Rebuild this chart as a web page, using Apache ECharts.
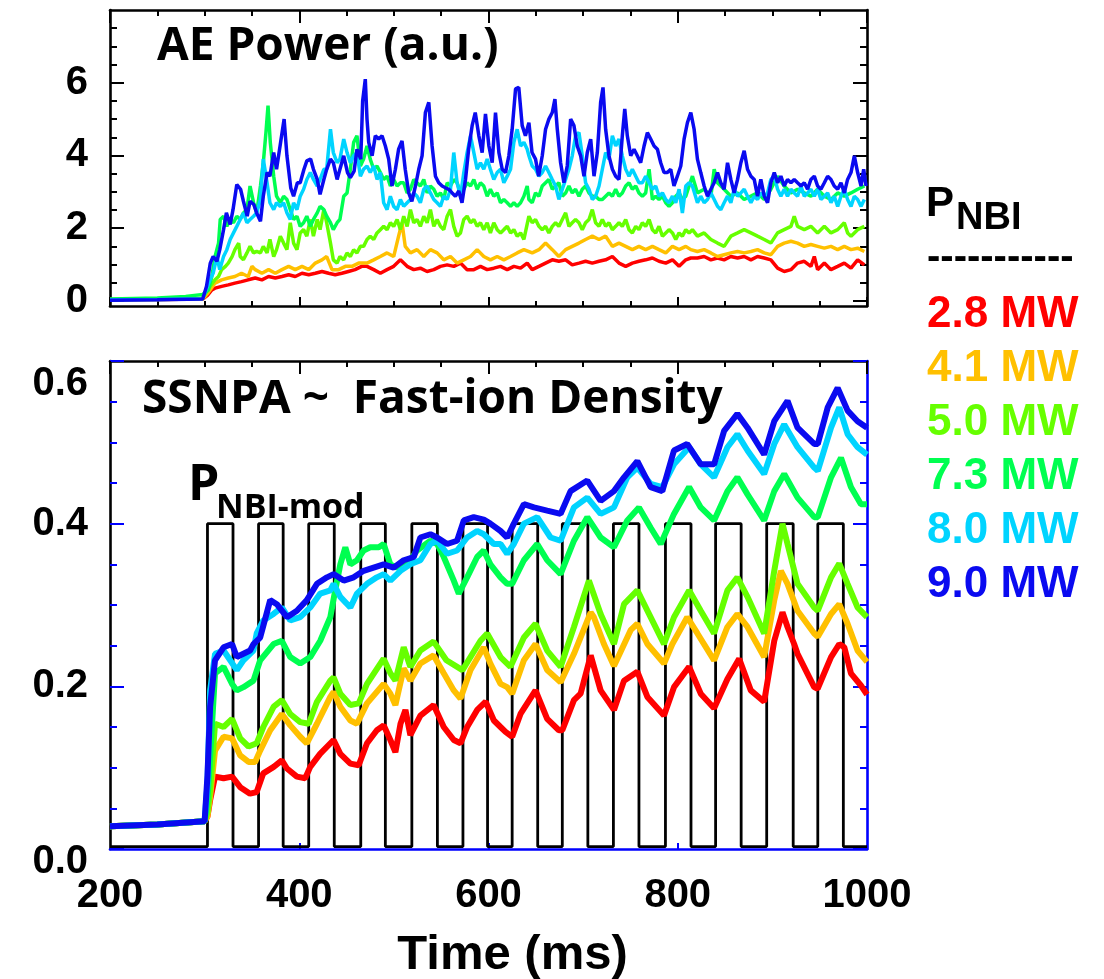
<!DOCTYPE html>
<html><head><meta charset="utf-8">
<script src="https://cdn.jsdelivr.net/npm/echarts@6/dist/echarts.min.js"></script>
<style>html,body{margin:0;padding:0;background:#fff}#c{width:1104px;height:979px}</style>
</head><body><div id="c"></div>
<script>
// ---------------- DATA ----------------
const seriesNames = ['2.8 MW','4.1 MW','5.0 MW','7.3 MW','8.0 MW','9.0 MW'];
const seriesColors = ['#ff0000','#ffc000','#66ff00','#00ff50','#00d4ff','#0a0af0'];

// AE power (a.u.) vs time (ms)
const aeRed = [[200,0.03],[250,0.04],[298,0.05],[303,0.15],[307.6,0.3],[311,0.35],[318,0.4],[325,0.44],[332,0.49],[339,0.53],[346,0.58],[353.5,0.63],[360.5,0.58],[367.6,0.67],[374.7,0.63],[381.7,0.67],[388.8,0.72],[395.8,0.67],[402.9,0.76],[410,0.72],[417,0.76],[424,0.81],[431,0.76],[438,0.72],[445,0.76],[452,0.81],[459,0.86],[466,0.95],[471.6,0.95],[478.7,0.86],[485.7,0.76],[492.8,0.86],[499.8,0.95],[506.9,1.13],[514,0.95],[521,0.86],[528,0.9],[535.1,0.81],[542.2,0.86],[549.2,0.95],[556.3,0.99],[563.3,0.95],[570.4,1.04],[577.4,0.86],[584.5,0.86],[591.5,0.95],[598.6,0.86],[605.6,0.9],[612.7,0.95],[619.8,0.86],[626.8,0.95],[633.9,0.9],[640.9,1.04],[646.2,0.86],[653.3,0.95],[660.3,1.04],[667.4,1.13],[674.4,1.09],[681.5,1.13],[688.5,0.99],[695.6,1.04],[702.6,1.09],[709.7,1.04],[716.8,1.09],[723.8,1.13],[730.9,1.22],[737.9,1.04],[745,0.95],[752,1.04],[759,1.09],[766.1,1.13],[773.2,1.18],[780.2,1.09],[787.3,1.04],[794.4,1.13],[801.4,0.95],[808.5,1.13],[813.8,1.18],[820.8,1.18],[827.9,1.22],[835,1.13],[842,1.18],[849,1.13],[856.1,1.22],[863.2,1.18],[870.2,1.22],[877.3,1.13],[884.3,1.22],[891.4,1.18],[898.4,1.13],[905.5,0.9],[912.5,0.81],[919.6,0.86],[926.6,1.04],[933.7,1.09],[940.7,0.95],[944.3,1.22],[947.8,0.86],[954.9,1.04],[961.9,0.86],[969,0.95],[976,1.04],[983.1,0.9],[990.1,1.13],[997.2,0.99]];
const aeOrange = [[200,0.03],[250,0.04],[298,0.05],[303,0.2],[311,0.49],[318,0.58],[325,0.63],[332,0.67],[339,0.76],[346,0.67],[350,0.95],[353.5,0.86],[360.5,0.76],[367.6,0.86],[374.7,0.76],[381.7,0.86],[388.8,0.95],[395.8,0.86],[402.9,0.95],[410,0.86],[417,1.04],[424,1.13],[429,1.22],[434.6,0.86],[441.7,0.86],[448.7,0.95],[455.8,0.95],[462.8,1.04],[468,1.04],[471.6,1.04],[478.7,1.13],[485.7,1.22],[492.8,1.32],[499.8,1.22],[505,1.78],[508.6,2.15],[512,1.5],[517.5,1.32],[524.5,1.41],[531.6,1.22],[538.6,1.41],[545.7,1.32],[552.7,1.13],[559.8,1.22],[566.8,1.04],[573.9,1.13],[581,1.22],[588,1.41],[595,1.22],[602,1.13],[609.2,1.22],[616.2,1.13],[623.3,1.22],[630.3,1.32],[637.4,1.41],[646.2,1.32],[653.3,1.41],[660.3,1.59],[667.4,1.41],[674.4,1.22],[681.5,1.41],[688.5,1.5],[695.6,1.59],[702.6,1.69],[709.7,1.78],[716.8,1.69],[723.8,1.78],[730.9,1.5],[737.9,1.59],[745,1.5],[752,1.41],[759,1.5],[766.1,1.41],[773.2,1.5],[780.2,1.41],[787.3,1.32],[794.4,1.5],[801.4,1.41],[808.5,1.5],[813.8,1.41],[820.8,1.36],[827.9,1.41],[835,1.32],[842,1.22],[849,1.27],[856.1,1.32],[863.2,1.36],[870.2,1.32],[877.3,1.36],[884.3,1.41],[891.4,1.32],[898.4,1.27],[905.5,1.5],[912.5,1.59],[919.6,1.64],[926.6,1.59],[933.7,1.5],[940.7,1.55],[947.8,1.5],[954.9,1.45],[961.9,1.5],[969,1.41],[976,1.5],[983.1,1.41],[990.1,1.45],[997.2,1.36]];
const aeYellowGreen = [[200,0.04],[250,0.05],[298,0.08],[303,0.3],[311,0.58],[314.7,0.67],[318,0.86],[322,0.95],[325,1.04],[329,1.22],[332,1.41],[336,1.59],[337.6,1.22],[341,1.13],[344.7,1.32],[348,1.5],[351.7,1.32],[355,1.36],[359,1.32],[362,1.5],[366,1.32],[369,1.69],[373,1.22],[376,1.41],[380,1.78],[383.5,1.59],[387,1.41],[390.5,2.15],[394,1.59],[397.6,1.41],[401,1.87],[404.6,1.96],[408,1.78],[411.7,2.24],[415,1.78],[419,2.24],[422,1.96],[426,2.51],[429,2.15],[433,1.59],[436,1.13],[440,1.04],[443,1.22],[447,1.13],[450.5,1.32],[454,1.22],[457.5,1.41],[461,1.32],[464.6,1.5],[468,1.5],[471.6,1.69],[475,1.78],[478.7,1.69],[482.2,1.87],[485.7,1.96],[489.2,2.05],[492.8,1.96],[496.3,2.15],[499.8,2.05],[503.4,2.24],[506.9,1.96],[510.4,2.33],[514,2.05],[517.5,2.51],[521,2.15],[524.5,2.24],[528,2.05],[531.6,2.33],[535.1,2.15],[538.6,2.51],[542.2,2.05],[545.7,2.24],[549.2,2.05],[552.7,1.96],[556.3,2.33],[559.8,2.51],[563.3,2.05],[566.8,1.78],[570.4,1.87],[573.9,2.24],[577.4,2.33],[581,2.15],[584.5,2.24],[588,2.05],[591.5,2.15],[595,1.96],[598.6,2.15],[602,1.87],[605.6,2.15],[609.2,1.96],[612.7,1.87],[616.2,1.96],[619.8,2.05],[623.3,1.87],[626.8,1.96],[630.3,1.78],[633.9,1.87],[637.4,1.69],[642.7,2.33],[646.2,2.15],[649.7,2.24],[653.3,2.05],[656.8,1.96],[660.3,2.05],[663.8,1.87],[667.4,2.05],[670.9,2.15],[674.4,2.05],[678,2.24],[681.5,2.42],[685,2.05],[688.5,2.15],[692,2.24],[695.6,2.15],[699.1,1.96],[702.6,2.15],[706.2,2.24],[709.7,2.51],[713.2,2.15],[716.8,2.05],[720.3,2.24],[723.8,2.05],[727.3,2.15],[730.9,1.96],[734.4,2.05],[737.9,2.15],[741.4,2.05],[745,2.24],[748.5,1.96],[752,1.87],[755.6,2.05],[759,1.96],[762.6,2.15],[766.1,2.05],[769.7,2.24],[773.2,1.96],[776.7,1.87],[780.2,2.05],[783.8,1.78],[787.3,1.87],[790.8,1.96],[794.4,1.87],[797.9,1.69],[801.4,1.87],[804.9,1.78],[808.5,1.96],[812,1.87],[815.5,1.96],[820.8,1.78],[827.9,1.87],[835,1.69],[842,1.59],[849,1.5],[856.1,1.78],[863.2,1.87],[870.2,1.96],[877.3,1.87],[884.3,1.78],[891.4,1.69],[898.4,1.59],[905.5,1.87],[912.5,1.96],[919.6,2.05],[923.1,2.33],[926.6,2.05],[933.7,1.96],[940.7,2.05],[947.8,1.87],[954.9,2.05],[961.9,1.87],[969,1.96],[976,2.15],[979.5,1.87],[983.1,1.78],[990.1,1.96],[997.2,2.05]];
const aeGreen = [[200,0.05],[250,0.08],[280,0.12],[298,0.18],[304,0.3],[307.6,0.67],[311,1.22],[314.7,1.59],[316.5,2.24],[320,2.33],[323.5,2.05],[327,2.24],[330.5,2.15],[334,2.33],[337.6,2.24],[341,2.42],[344.7,2.51],[348,3.16],[351.7,2.7],[355,2.42],[359,3.16],[362,3.8],[364.8,4.63],[367,5.37],[369.4,4.36],[373,3.43],[376,2.88],[380,2.7],[383.5,2.88],[387,2.79],[390.5,2.51],[394,2.24],[397.6,2.33],[401,2.05],[404.6,2.15],[408,2.33],[411.7,2.05],[415,2.24],[419,2.42],[422,2.6],[426,2.51],[429,2.33],[433,2.15],[436,1.96],[440,2.15],[443,2.24],[447,2.88],[450.5,2.97],[454,3.62],[457.5,4.36],[461,4.54],[464.6,3.71],[468,3.9],[471.6,4.26],[475,3.9],[478.7,3.62],[482.2,3.71],[485.7,3.53],[489.2,3.34],[492.8,3.43],[496.3,3.16],[499.8,3.34],[503.4,3.16],[506.9,3.25],[510.4,3.25],[514,2.97],[517.5,3.07],[521,3.34],[524.5,3.25],[528,3.16],[531.6,3.34],[535.1,2.97],[538.6,3.16],[542.2,3.07],[545.7,2.88],[549.2,2.97],[552.7,2.79],[556.3,3.25],[559.8,3.16],[563.3,3.34],[566.8,3.25],[570.4,2.97],[573.9,3.07],[577.4,3.25],[581,3.16],[584.5,3.34],[588,3.07],[591.5,3.25],[595,3.16],[598.6,2.88],[602,3.07],[605.6,2.88],[609.2,2.97],[612.7,2.7],[616.2,2.79],[619.8,2.7],[623.3,2.6],[626.8,2.7],[630.3,2.6],[633.9,2.7],[637.4,2.88],[640.9,3.16],[642.7,2.79],[646.2,2.7],[649.7,2.97],[653.3,2.88],[656.8,3.16],[660.3,3.25],[663.8,3.34],[667.4,3.07],[670.9,3.16],[674.4,3.25],[678,2.88],[681.5,2.97],[685,3.16],[688.5,2.97],[692,3.07],[695.6,2.88],[699.1,3.07],[702.6,3.16],[706.2,2.97],[709.7,2.88],[713.2,2.88],[716.8,2.79],[720.3,2.79],[723.8,2.88],[727.3,2.97],[730.9,2.88],[734.4,3.07],[737.9,2.88],[741.4,2.97],[745,3.16],[748.5,3.25],[752,3.07],[755.6,3.16],[759,2.97],[762.6,2.88],[766.1,2.97],[769.7,3.62],[773.2,2.79],[776.7,2.88],[780.2,2.79],[783.8,2.88],[787.3,2.7],[790.8,2.6],[794.4,2.7],[797.9,2.88],[801.4,2.97],[804.9,2.79],[808.5,2.88],[812,3.16],[815.5,3.43],[820.8,2.97],[827.9,3.07],[835,2.88],[838.5,3.62],[842,3.25],[849,3.07],[856.1,2.88],[863.2,2.97],[870.2,2.79],[877.3,2.88],[884.3,2.97],[891.4,2.79],[898.4,3.07],[905.5,3.43],[912.5,3.16],[919.6,2.97],[926.6,3.07],[933.7,2.97],[940.7,2.88],[947.8,3.07],[954.9,2.88],[961.9,2.79],[969,2.97],[976,2.88],[983.1,2.97],[990.1,3.07],[997.2,3.16]];
const aeCyan = [[200,0.03],[250,0.04],[298,0.06],[303,0.4],[306,0.6],[309,0.76],[313,1.22],[316,0.86],[320,1.22],[323.5,1.41],[327,1.69],[330.5,1.87],[334,2.05],[337.6,2.24],[341,2.42],[344.7,2.15],[348,2.24],[351.7,2.33],[355,2.42],[359,2.79],[362,3.9],[366,3.25],[369,2.7],[373,2.51],[376,2.7],[380,2.6],[383.5,2.7],[387,2.42],[390.5,2.24],[394,2.7],[397.6,2.51],[401,2.88],[404.6,3.07],[408,3.34],[411.7,3.53],[415,3.34],[419,3.16],[422,3.34],[426,3.62],[429,3.62],[433,4.72],[436,4.08],[440,3.8],[443,3.9],[447,4.45],[450.5,4.08],[454,3.8],[457.5,3.99],[461,4.08],[464.6,3.43],[468,3.62],[471.6,3.71],[475,3.53],[478.7,3.71],[482.2,3.34],[485.7,3.53],[489.2,2.7],[492.8,2.51],[496.3,2.88],[499.8,2.6],[503.4,2.51],[506.9,2.79],[510.4,2.6],[514,2.7],[517.5,2.79],[521,2.97],[524.5,2.88],[528,2.7],[531.6,3.07],[535.1,3.16],[538.6,2.97],[542.2,2.79],[545.7,2.7],[549.2,2.6],[552.7,2.88],[556.3,2.79],[559.8,3.07],[563.3,4.08],[566.8,3.25],[570.4,2.88],[573.9,3.53],[577.4,4.08],[581,4.54],[584.5,4.08],[588,3.62],[591.5,3.8],[595,3.62],[598.6,3.9],[602,3.62],[605.6,3.34],[609.2,3.53],[612.7,3.62],[616.2,3.25],[619.8,3.43],[623.3,3.62],[626.8,4.36],[630.3,4.72],[633.9,4.26],[637.4,4.36],[640.9,4.17],[642.7,3.99],[646.2,3.71],[649.7,3.62],[653.3,3.43],[656.8,3.53],[660.3,3.71],[663.8,3.53],[667.4,3.34],[670.9,3.16],[674.4,2.79],[678,3.07],[681.5,3.34],[685,3.62],[688.5,3.99],[692,4.54],[695.6,4.63],[699.1,3.99],[702.6,3.25],[706.2,3.07],[709.7,2.79],[713.2,2.88],[716.8,3.16],[720.3,3.62],[723.8,4.08],[727.3,3.9],[730.9,4.54],[734.4,4.26],[737.9,4.45],[741.4,3.99],[745,3.62],[748.5,3.43],[752,3.62],[755.6,3.43],[759,3.25],[762.6,3.25],[766.1,3.43],[769.7,3.25],[773.2,3.07],[776.7,3.16],[780.2,2.88],[783.8,2.97],[787.3,2.79],[790.8,2.7],[794.4,2.88],[797.9,2.7],[801.4,3.07],[804.9,2.42],[808.5,3.16],[812,3.25],[815.5,3.16],[820.8,2.7],[824.3,2.88],[827.9,2.7],[831.4,2.79],[835,2.97],[838.5,2.79],[842,2.6],[845.5,2.51],[849,2.7],[852.6,2.88],[856.1,2.7],[859.6,3.07],[863.2,2.88],[866.7,2.97],[870.2,3.07],[873.7,2.88],[877.3,2.7],[880.8,2.88],[884.3,2.79],[887.8,2.97],[891.4,2.88],[894.9,2.97],[898.4,3.34],[902,3.43],[905.5,3.07],[909,2.88],[912.5,3.07],[916,2.88],[919.6,3.07],[923.1,2.97],[926.6,2.88],[930.2,3.16],[933.7,2.88],[937.2,2.97],[940.7,3.07],[944.3,2.88],[947.8,3.07],[951.3,2.79],[954.9,2.88],[958.4,2.97],[961.9,2.7],[965.4,2.88],[969,2.6],[972.5,2.88],[976,3.07],[979.5,2.79],[983.1,2.6],[986.6,2.88],[990.1,2.79],[993.7,2.6],[997.2,2.79]];
const aeBlue = [[200,0.02],[250,0.03],[298,0.05],[302,0.4],[306,1.04],[309,1.22],[313,1.09],[316,1.41],[320,1.96],[323,2.42],[327,2.1],[330,2.51],[334,3.2],[338,3.07],[341,2.74],[345,2.33],[348,2.74],[352,2.65],[355,2.42],[359,2.19],[362,2.88],[366,3.53],[369,3.43],[373,4.08],[376,3.62],[380,4.31],[384,5.0],[387,3.99],[391,3.11],[394,2.88],[398,3.25],[401,3.25],[405,3.62],[408,3.85],[412,3.9],[415,3.62],[419,3.34],[422,2.93],[426,3.34],[429,3.62],[433,3.9],[436,3.8],[440,3.34],[443,3.62],[447,3.99],[451,3.53],[454,3.39],[458,3.57],[461,4.17],[465,3.9],[467,5.5],[469.8,6.1],[471.6,5.0],[473.4,4.36],[477,3.99],[480.4,4.54],[484,4.45],[487.5,4.54],[491,4.26],[494.5,3.9],[498,3.16],[501.6,3.62],[505,4.17],[508.6,4.4],[512,3.62],[515.7,2.97],[519,2.74],[522.8,3.16],[526.3,3.62],[529.8,3.99],[533.3,5.18],[536.9,5.46],[540.4,4.26],[543.9,3.43],[547.4,3.25],[551,3.16],[554.5,3.11],[558,3.07],[561.6,2.97],[565,2.88],[568.6,3.02],[572,2.7],[575.7,3.34],[579,4.17],[582.7,4.82],[586,5.18],[589.8,4.54],[593.3,4.08],[596.8,5.14],[600.4,4.26],[603.9,3.8],[607.4,5.18],[611,4.08],[614.5,3.62],[618,3.53],[621.5,3.99],[625,4.72],[628.6,5.83],[632,5.87],[635.6,4.82],[639,4.54],[642.7,4.9],[646,4.08],[649.7,3.9],[653,3.43],[656.8,3.99],[660.3,4.72],[663.8,5.0],[667.4,5.18],[670.2,5.55],[672.7,4.72],[676.2,3.8],[679.7,3.25],[683.2,3.71],[686.8,5.0],[690.3,4.82],[693.8,4.26],[697.4,3.99],[700.9,3.43],[704.4,4.08],[708,4.45],[711.5,3.43],[715,4.08],[718.5,5.46],[721,5.87],[723.8,4.72],[727.3,3.99],[730.9,3.62],[734.4,3.43],[737.9,3.34],[741.4,4.54],[744,5.28],[746.7,4.54],[750.3,3.99],[753.8,4.17],[757.3,3.99],[760.8,3.8],[764.4,4.26],[767.9,4.63],[771.4,4.45],[775,4.26],[778.5,4.17],[782,3.8],[785.5,3.53],[789,3.53],[792.6,3.62],[796,3.16],[799.6,3.43],[803.2,3.71],[806.7,4.45],[810.2,4.9],[813.8,5.18],[817.3,4.72],[820.8,3.9],[824.3,3.53],[827.9,3.16],[831.4,2.88],[835,3.07],[838.5,3.25],[842,3.53],[845.5,3.25],[849,3.07],[852.6,3.8],[856.1,3.34],[859.6,2.97],[863.2,3.34],[866.7,3.8],[870.2,4.13],[873.7,3.62],[877.3,3.43],[880.8,3.34],[884.3,2.88],[887.8,3.34],[891.4,2.88],[894.9,2.7],[898.4,3.25],[902,3.53],[905.5,3.25],[909,3.43],[912.5,3.16],[916,3.34],[919.6,3.25],[923.1,3.34],[926.6,3.25],[930.2,3.16],[933.7,3.25],[937.2,3.07],[940.7,3.34],[944.3,3.43],[947.8,3.16],[951.3,3.07],[954.9,3.25],[958.4,3.43],[961.9,3.34],[965.4,3.16],[969,3.07],[972.5,3.25],[976,2.97],[979.5,3.34],[983.1,3.53],[986.6,3.99],[990.1,3.53],[993.7,3.16],[996.5,3.62],[999,3.16]];

// SSNPA ~ fast-ion density vs time (ms)
const ssRed = [[200,0.028],[250,0.03],[300,0.034],[303,0.04],[305.8,0.06],[311,0.089],[320,0.087],[329,0.089],[337.6,0.076],[348,0.068],[355,0.07],[362,0.093],[373,0.101],[381.6,0.109],[387,0.099],[397.5,0.089],[406.3,0.087],[411.6,0.101],[422,0.117],[436.3,0.134],[443.4,0.117],[454,0.105],[462.8,0.103],[471.6,0.13],[482,0.146],[489.2,0.152],[496.3,0.134],[501.6,0.119],[507,0.154],[512.2,0.171],[517.4,0.14],[528,0.164],[542,0.177],[552.7,0.15],[563.3,0.134],[570.4,0.13],[577.4,0.15],[588,0.171],[597,0.181],[605.7,0.158],[612.7,0.15],[618,0.144],[625,0.138],[633.8,0.166],[649.7,0.195],[662,0.16],[674.4,0.146],[678,0.146],[690.3,0.183],[697.3,0.191],[708,0.238],[718.5,0.195],[732.6,0.171],[743.2,0.207],[757.3,0.218],[767.9,0.187],[785.5,0.164],[796,0.199],[812,0.224],[824.3,0.191],[838.4,0.173],[852.5,0.209],[864.9,0.234],[877.2,0.195],[891.3,0.181],[902,0.256],[910.7,0.291],[916,0.273],[923,0.252],[926.6,0.24],[944.2,0.199],[947.8,0.197],[962,0.236],[970.7,0.252],[976,0.248],[983,0.216],[993.6,0.201],[1000,0.19]];
const ssOrange = [[200,0.028],[250,0.03],[300,0.034],[303,0.04],[305.8,0.064],[311,0.121],[320,0.138],[329,0.136],[337.6,0.115],[346.4,0.107],[353.4,0.107],[358.7,0.121],[369.3,0.146],[381.6,0.166],[390.5,0.152],[401,0.138],[408,0.13],[418.7,0.154],[432.8,0.187],[436.3,0.193],[443.4,0.175],[454,0.158],[461,0.154],[471.6,0.179],[489.2,0.203],[496.3,0.191],[501.6,0.177],[510.4,0.222],[517.4,0.207],[528,0.228],[542,0.238],[552.7,0.216],[563.3,0.195],[570.4,0.185],[581,0.22],[595,0.248],[602,0.228],[612.7,0.203],[619.7,0.199],[625,0.191],[637.4,0.232],[649.7,0.252],[662,0.22],[676.2,0.205],[690.3,0.24],[708,0.291],[711.4,0.285],[722,0.252],[732.6,0.225],[750.2,0.269],[757.3,0.277],[767.9,0.252],[785.5,0.228],[794.3,0.252],[810,0.285],[820.8,0.265],[838.4,0.232],[852.5,0.273],[863,0.289],[873.7,0.273],[891.3,0.236],[902,0.306],[909,0.342],[916,0.326],[926.6,0.293],[944.2,0.265],[948,0.261],[962,0.289],[970.7,0.301],[979.5,0.277],[990,0.244],[1000,0.23]];
const ssYellowGreen = [[200,0.028],[250,0.03],[300,0.034],[303,0.045],[305.8,0.072],[311,0.154],[320,0.15],[329,0.16],[337.6,0.136],[346.4,0.126],[355,0.13],[362,0.15],[373,0.175],[381.6,0.183],[390.5,0.166],[401,0.156],[410,0.154],[418.7,0.181],[432.8,0.207],[436.3,0.211],[443.4,0.191],[454,0.177],[462.8,0.179],[471.6,0.203],[489.2,0.234],[496.3,0.216],[501.6,0.207],[510.4,0.248],[517.4,0.224],[528,0.244],[542,0.255],[555.5,0.232],[572.5,0.22],[591.5,0.256],[598.6,0.265],[612.7,0.236],[623.2,0.224],[637.4,0.26],[649.7,0.277],[662,0.244],[676.2,0.224],[690.3,0.273],[706.1,0.33],[718.5,0.289],[732.6,0.252],[743.2,0.301],[757.3,0.318],[767.9,0.293],[785.5,0.252],[796,0.285],[812,0.318],[824.3,0.293],[838.4,0.265],[852.5,0.318],[863,0.334],[873.7,0.31],[891.3,0.265],[902,0.342],[910.7,0.4],[916,0.375],[926.6,0.326],[944.2,0.297],[948,0.293],[962,0.334],[970.7,0.351],[979.5,0.326],[990,0.297],[1000,0.285]];
const ssGreen = [[200,0.028],[250,0.03],[300,0.034],[303,0.06],[305.8,0.113],[311,0.216],[320,0.224],[329,0.203],[334,0.195],[341,0.199],[351.6,0.207],[358.7,0.232],[372.8,0.252],[381.6,0.256],[390.5,0.236],[401,0.228],[411.6,0.236],[422.2,0.256],[432.8,0.285],[438,0.318],[443.4,0.35],[448.7,0.371],[454,0.35],[461,0.355],[468,0.367],[475,0.371],[484,0.371],[489.2,0.375],[496.3,0.35],[503.4,0.346],[514,0.35],[524.5,0.367],[538.6,0.379],[545.7,0.375],[552.7,0.359],[563.3,0.33],[568.6,0.314],[577.4,0.334],[588,0.359],[595,0.367],[602,0.35],[612.7,0.334],[619.7,0.326],[625,0.326],[637.4,0.355],[651.5,0.375],[662,0.355],[676.2,0.338],[690.3,0.379],[704.4,0.408],[718.5,0.383],[732.6,0.371],[746.7,0.404],[759,0.42],[771.4,0.395],[782,0.375],[796,0.412],[812,0.445],[824.3,0.42],[838.4,0.404],[852.5,0.44],[863,0.457],[873.7,0.436],[891.3,0.404],[902,0.44],[912.5,0.461],[926.6,0.432],[944.2,0.408],[948,0.408],[962,0.457],[972.5,0.481],[983,0.445],[993.6,0.424],[1000,0.424]];
const ssCyan = [[200,0.028],[250,0.03],[300,0.034],[303,0.08],[305.8,0.195],[311,0.24],[320,0.244],[327,0.232],[334,0.22],[341,0.232],[351.6,0.244],[355,0.265],[362,0.281],[372.8,0.289],[381.6,0.297],[390.5,0.281],[401,0.285],[411.6,0.297],[422.2,0.314],[432.8,0.318],[436.3,0.326],[443.4,0.31],[454,0.297],[461,0.314],[471.6,0.326],[482,0.334],[489.2,0.338],[496.3,0.33],[507,0.342],[517.4,0.35],[528,0.355],[538.6,0.375],[545.7,0.379],[556.3,0.363],[566.8,0.367],[577.4,0.383],[588,0.391],[595,0.387],[605.6,0.375],[612.7,0.375],[619.7,0.363],[626.8,0.375],[637.4,0.4],[651.5,0.408],[665.6,0.383],[676.2,0.379],[690.3,0.42],[704.4,0.432],[718.5,0.412],[732.6,0.42],[746.7,0.457],[757.3,0.469],[771.4,0.449],[783.7,0.445],[796,0.473],[812,0.494],[824.3,0.473],[838.4,0.457],[852.5,0.494],[863,0.51],[873.7,0.49],[891.3,0.461],[902,0.498],[912.5,0.522],[926.6,0.494],[944.2,0.469],[948,0.465],[962,0.518],[970.7,0.543],[979.5,0.51],[990,0.494],[1000,0.485]];
const ssBlue = [[200,0.028],[250,0.03],[300,0.034],[303,0.09],[305.8,0.175],[311,0.232],[320,0.248],[329,0.252],[334,0.236],[341,0.24],[348,0.244],[351.6,0.252],[358.7,0.26],[369.3,0.306],[376.3,0.301],[387,0.285],[397.5,0.293],[408,0.306],[418.7,0.326],[429.3,0.334],[436.3,0.338],[447,0.33],[457.5,0.334],[468,0.342],[478.6,0.346],[489.2,0.35],[499.8,0.346],[510.4,0.355],[521,0.359],[528,0.383],[538.6,0.387],[545.7,0.383],[556.3,0.375],[566.8,0.379],[573.9,0.404],[584.4,0.408],[595,0.405],[602,0.4],[612.7,0.391],[619.7,0.383],[626.8,0.4],[637.4,0.424],[648,0.42],[662,0.416],[676.2,0.412],[686.7,0.44],[704.4,0.453],[718.5,0.428],[732.6,0.44],[743.2,0.457],[757.3,0.477],[771.4,0.445],[783.7,0.44],[796,0.49],[810,0.498],[824.3,0.473],[838.4,0.473],[849,0.514],[863,0.535],[873.7,0.518],[891.3,0.485],[902,0.526],[916,0.551],[926.6,0.518],[944.2,0.498],[948,0.498],[958.5,0.543],[969,0.567],[979.5,0.539],[990,0.526],[1000,0.518]];

// NBI modulation square wave: pulse on/off times (ms) and levels
const pulseOn  = [303,357,410,465,519,573,625,678,732,787,840,894,948];
const pulseOff = [330,383,437,491,546,599,652,705,759,814,867,922,975];
const pulseHigh = 0.4, pulseLow = 0.003;

// ticks and labels
const xMajorTicks = [200,400,600,800,1000];
const xMinorTicks = [250,300,350,450,500,550,650,700,750,850,900,950];
const xBottomTicks = [400,600,800];
const aeMajorTicks = [0,2,4,6];
const aeMinorTicks = [0.5,1,1.5,2.5,3,3.5,4.5,5,5.5,6.5,7,7.5];
const ssMajorTicks = [0,0.2,0.4,0.6];
const ssMinorTicks = [0.05,0.1,0.15,0.25,0.3,0.35,0.45,0.5,0.55];

// ---------------- BUILD ----------------
const aeSeriesData = [aeRed, aeOrange, aeYellowGreen, aeGreen, aeCyan, aeBlue];
const ssSeriesData = [ssRed, ssOrange, ssYellowGreen, ssGreen, ssCyan, ssBlue];

const pulseData = [[200, pulseLow]];
pulseOn.forEach((on, i) => {
  pulseData.push([on, pulseLow], [on, pulseHigh], [pulseOff[i], pulseHigh], [pulseOff[i], pulseLow]);
});
pulseData.push([1000, pulseLow]);

const BLACK = '#000', BLUE = '#0000ff';
const labelFont = {fontSize: 40, fontWeight: 'bold', fontFamily: 'Liberation Sans', color: '#000'};

function xAx(grid, pos, ticks, len, color, showLine, lineColor, label) {
  return {
    gridIndex: grid, type: 'value', min: 200, max: 1000, position: pos,
    axisLine: {show: showLine, onZero: false, lineStyle: {color: lineColor || color, width: 2.6}},
    axisTick: {show: true, inside: true, length: len, customValues: ticks, lineStyle: {color: color, width: 2}},
    axisLabel: label ? Object.assign({show: true, customValues: xMajorTicks, margin: 27,
                                      formatter: v => String(v)}, labelFont) : {show: false},
    splitLine: {show: false}
  };
}
function yAx(grid, pos, min, max, ticks, len, color, showLine, lineColor, label) {
  return {
    gridIndex: grid, type: 'value', min: min, max: max, position: pos,
    axisLine: {show: showLine, onZero: false, lineStyle: {color: lineColor || color, width: 2.6}},
    axisTick: {show: true, inside: true, length: len, customValues: ticks, lineStyle: {color: color, width: 2}},
    axisLabel: label || {show: false},
    splitLine: {show: false}
  };
}

const xAxis = [
  xAx(0, 'bottom', xMajorTicks, 9, BLACK, true),
  xAx(0, 'bottom', xMinorTicks, 5, BLACK, false),
  xAx(0, 'top', xMajorTicks, 13, BLACK, true),
  xAx(0, 'top', xMinorTicks, 6, BLACK, false),
  xAx(1, 'top', xMajorTicks, 13, BLACK, true),
  xAx(1, 'top', xMinorTicks, 6, BLACK, false),
  Object.assign(xAx(1, 'bottom', xBottomTicks, 6, BLUE, true, BLUE, true), {
    name: 'Time (ms)', nameLocation: 'middle', nameGap: 82,
    nameTextStyle: {fontSize: 49, fontWeight: 'bold', fontFamily: 'Liberation Sans', color: '#000',
                    padding: [0, 0, 0, 48]}
  })
];

const yAxis = [
  yAx(0, 'left', -0.14, 8, aeMajorTicks, 14, BLACK, true, BLACK,
      Object.assign({show: true, customValues: aeMajorTicks, margin: 22}, labelFont)),
  yAx(0, 'left', -0.14, 8, aeMinorTicks, 7, BLACK, false),
  yAx(0, 'right', -0.14, 8, aeMajorTicks, 14, BLACK, true),
  yAx(0, 'right', -0.14, 8, aeMinorTicks, 7, BLACK, false),
  yAx(1, 'left', 0, 0.6, ssMajorTicks, 14, BLUE, true, BLACK,
      Object.assign({show: true, customValues: ssMajorTicks, margin: 22,
        formatter: v => v === 0 ? '{lo|0.0}' : (v >= 0.59 ? '{hi|0.6}' : v.toFixed(1)),
        rich: {
          lo: Object.assign({padding: [26, 0, 0, 0]}, labelFont),
          hi: Object.assign({padding: [46, 0, 0, 0]}, labelFont)
        }}, labelFont)),
  yAx(1, 'left', 0, 0.6, ssMinorTicks, 7, BLUE, false),
  yAx(1, 'right', 0, 0.6, ssMajorTicks, 14, BLUE, true, BLUE),
  yAx(1, 'right', 0, 0.6, ssMinorTicks, 7, BLUE, false)
];

const series = [];
aeSeriesData.forEach((d, i) => series.push({
  name: seriesNames[i], type: 'line', xAxisIndex: 0, yAxisIndex: 0, data: d,
  showSymbol: false, symbol: 'none', animation: false,
  lineStyle: {color: seriesColors[i], width: 3.5}, itemStyle: {color: seriesColors[i]}, z: 2 + i
}));
series.push({
  name: 'P_NBI-mod', type: 'line', xAxisIndex: 6, yAxisIndex: 4, data: pulseData,
  showSymbol: false, symbol: 'none', animation: false,
  lineStyle: {color: '#000', width: 2.8}, itemStyle: {color: '#000'}, z: 1
});
ssSeriesData.forEach((d, i) => series.push({
  name: seriesNames[i], type: 'line', xAxisIndex: 6, yAxisIndex: 4, data: d,
  showSymbol: false, symbol: 'none', animation: false,
  lineStyle: {color: seriesColors[i], width: 6}, itemStyle: {color: seriesColors[i]}, z: 2 + i
}));

const titleFont = 'bold 46px "Open Sans"';
const legendFont = '"Liberation Sans"';

const option = {
  backgroundColor: '#fff',
  animation: false,
  grid: [
    {left: 110, top: 10, width: 757, height: 296, outerBoundsMode: 'none', containLabel: false},
    {left: 110, top: 361, width: 757, height: 488, outerBoundsMode: 'none', containLabel: false}
  ],
  xAxis: xAxis,
  yAxis: yAxis,
  legend: {
    orient: 'vertical', left: 916, top: 288, itemWidth: 0, itemHeight: 0, itemGap: 10,
    selectedMode: false,
    textStyle: {fontSize: 44, fontWeight: 'bold', fontFamily: 'Liberation Sans', lineHeight: 44},
    data: seriesNames.map((n, i) => ({name: n, textStyle: {color: seriesColors[i]}}))
  },
  graphic: [
    {type: 'text', x: 157, y: 47, style: {text: 'AE Power (a.u.)', font: titleFont, fill: '#000', align: 'left', verticalAlign: 'middle'}},
    {type: 'text', x: 142, y: 400, style: {text: 'SSNPA ~  Fast-ion Density', font: titleFont, fill: '#000', align: 'left', verticalAlign: 'middle'}},
    {type: 'text', x: 188, y: 486, style: {text: 'P', font: 'bold 50px "Open Sans"', fill: '#000', align: 'left', verticalAlign: 'middle'}},
    {type: 'text', x: 216, y: 508, style: {text: 'NBI-mod', font: 'bold 34px "Open Sans"', fill: '#000', align: 'left', verticalAlign: 'middle'}},
    {type: 'text', x: 926, y: 204, style: {text: 'P', font: 'bold 42px ' + legendFont, fill: '#000', align: 'left', verticalAlign: 'middle'}},
    {type: 'text', x: 956, y: 219, style: {text: 'NBI', font: 'bold 38px ' + legendFont, fill: '#000', align: 'left', verticalAlign: 'middle'}},
    {type: 'text', x: 927, y: 258, style: {text: '-----------', font: 'bold 40px ' + legendFont, fill: '#000', align: 'left', verticalAlign: 'middle'}}
  ],
  series: series
};

const chart = echarts.init(document.getElementById('c'), null, {renderer: 'canvas'});
chart.setOption(option);
</script>
</body></html>
